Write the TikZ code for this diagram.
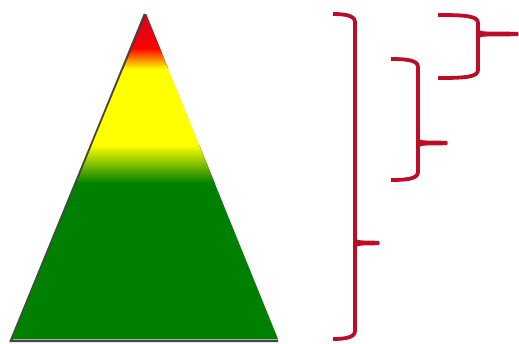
\documentclass[tikz,border=0pt]{standalone}
\usepackage{tikz}
\definecolor{bracered}{RGB}{186,14,40}
\definecolor{apexred}{RGB}{205,8,32}
\definecolor{tred}{RGB}{255,0,0}
\definecolor{tyellow}{RGB}{255,255,0}
\definecolor{tgreen}{RGB}{0,128,0}
\definecolor{shadowgray}{RGB}{70,70,70}
\tikzset{
  bracestroke/.style={draw=bracered, line width=3.8pt},
  bandfill/.style={draw=none}
}
\newcommand\redbrace[6]{%
  \draw[bracestroke] (#1,#3) .. controls ({#2-12},#3) and (#2,{#3+1}) .. (#2,{#3+8})
     -- (#2,{#5-8}) .. controls (#2,{#5-1}) and ({#2-12},#5) .. (#1,#5);
  \fill[bracered] ({#2-1},{#4-8}) .. controls ({#2},{#4-3}) and ({#2+3},{#4-2.6}) .. ({#2+10},{#4-2.4})
     -- ({#6-1.5},{#4-2.2}) .. controls (#6,{#4-2.2}) and (#6,{#4+2.2}) .. ({#6-1.5},{#4+2.2})
     -- ({#2+10},{#4+2.4})
     .. controls ({#2+3},{#4+2.6}) and (#2,{#4+3}) .. ({#2-1},{#4+8}) -- cycle;
}
\begin{document}
\begin{tikzpicture}[x=1pt,y=-1pt]
\useasboundingbox (0,0) rectangle (519,343);
% triangle corners
\coordinate (apex) at (146,14);
\coordinate (bl) at (12,339);
\coordinate (br) at (278,339);
% shadow
\draw[shadowgray, line width=2.5pt] ([xshift=-1pt]apex) -- ([xshift=-1pt,yshift=-1.8pt]bl) -- ([yshift=-1.8pt]br);
% gradient fill
\begin{scope}
  \clip (apex) -- (bl) -- (br) -- cycle;
  \fill[bandfill, top color=apexred, bottom color=tred] (0,13) rectangle (300,48);
  \fill[bandfill, top color=tred, bottom color=tyellow] (0,48) rectangle (300,69);
  \fill[bandfill, tyellow] (0,69) rectangle (300,145);
  \fill[bandfill, top color=tyellow, bottom color=tgreen] (0,145) rectangle (300,183);
  \fill[bandfill, tgreen] (0,183) rectangle (300,341);
\end{scope}
% braces
\redbrace{333}{355}{14}{243}{339}{380}
\redbrace{391}{418}{59}{143}{180}{448}
\redbrace{438}{478}{15}{34}{78}{519}
\end{tikzpicture}
\end{document}
